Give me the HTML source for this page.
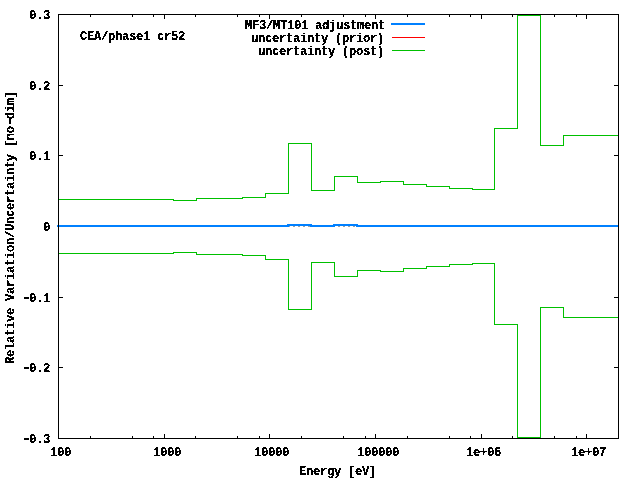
<!DOCTYPE html>
<html><head><meta charset="utf-8"><title>plot</title>
<style>html,body{margin:0;padding:0;background:#fff;width:640px;height:480px;overflow:hidden}svg{display:block}</style>
</head><body>
<svg width="640" height="480" viewBox="0 0 640 480" shape-rendering="crispEdges">
<rect x="0" y="0" width="640" height="480" fill="#ffffff"/>
<rect x="59" y="226" width="1" height="1" fill="#a0a0a0"/>
<rect x="63" y="226" width="1" height="1" fill="#a0a0a0"/>
<rect x="64" y="226" width="1" height="1" fill="#a0a0a0"/>
<rect x="68" y="226" width="1" height="1" fill="#a0a0a0"/>
<rect x="69" y="226" width="1" height="1" fill="#a0a0a0"/>
<rect x="73" y="226" width="1" height="1" fill="#a0a0a0"/>
<rect x="74" y="226" width="1" height="1" fill="#a0a0a0"/>
<rect x="78" y="226" width="1" height="1" fill="#a0a0a0"/>
<rect x="79" y="226" width="1" height="1" fill="#a0a0a0"/>
<rect x="83" y="226" width="1" height="1" fill="#a0a0a0"/>
<rect x="84" y="226" width="1" height="1" fill="#a0a0a0"/>
<rect x="88" y="226" width="1" height="1" fill="#a0a0a0"/>
<rect x="89" y="226" width="1" height="1" fill="#a0a0a0"/>
<rect x="93" y="226" width="1" height="1" fill="#a0a0a0"/>
<rect x="94" y="226" width="1" height="1" fill="#a0a0a0"/>
<rect x="98" y="226" width="1" height="1" fill="#a0a0a0"/>
<rect x="99" y="226" width="1" height="1" fill="#a0a0a0"/>
<rect x="103" y="226" width="1" height="1" fill="#a0a0a0"/>
<rect x="104" y="226" width="1" height="1" fill="#a0a0a0"/>
<rect x="108" y="226" width="1" height="1" fill="#a0a0a0"/>
<rect x="109" y="226" width="1" height="1" fill="#a0a0a0"/>
<rect x="113" y="226" width="1" height="1" fill="#a0a0a0"/>
<rect x="114" y="226" width="1" height="1" fill="#a0a0a0"/>
<rect x="118" y="226" width="1" height="1" fill="#a0a0a0"/>
<rect x="119" y="226" width="1" height="1" fill="#a0a0a0"/>
<rect x="123" y="226" width="1" height="1" fill="#a0a0a0"/>
<rect x="124" y="226" width="1" height="1" fill="#a0a0a0"/>
<rect x="128" y="226" width="1" height="1" fill="#a0a0a0"/>
<rect x="129" y="226" width="1" height="1" fill="#a0a0a0"/>
<rect x="133" y="226" width="1" height="1" fill="#a0a0a0"/>
<rect x="134" y="226" width="1" height="1" fill="#a0a0a0"/>
<rect x="138" y="226" width="1" height="1" fill="#a0a0a0"/>
<rect x="139" y="226" width="1" height="1" fill="#a0a0a0"/>
<rect x="143" y="226" width="1" height="1" fill="#a0a0a0"/>
<rect x="144" y="226" width="1" height="1" fill="#a0a0a0"/>
<rect x="148" y="226" width="1" height="1" fill="#a0a0a0"/>
<rect x="149" y="226" width="1" height="1" fill="#a0a0a0"/>
<rect x="153" y="226" width="1" height="1" fill="#a0a0a0"/>
<rect x="154" y="226" width="1" height="1" fill="#a0a0a0"/>
<rect x="158" y="226" width="1" height="1" fill="#a0a0a0"/>
<rect x="159" y="226" width="1" height="1" fill="#a0a0a0"/>
<rect x="163" y="226" width="1" height="1" fill="#a0a0a0"/>
<rect x="164" y="226" width="1" height="1" fill="#a0a0a0"/>
<rect x="168" y="226" width="1" height="1" fill="#a0a0a0"/>
<rect x="169" y="226" width="1" height="1" fill="#a0a0a0"/>
<rect x="173" y="226" width="1" height="1" fill="#a0a0a0"/>
<rect x="174" y="226" width="1" height="1" fill="#a0a0a0"/>
<rect x="178" y="226" width="1" height="1" fill="#a0a0a0"/>
<rect x="179" y="226" width="1" height="1" fill="#a0a0a0"/>
<rect x="183" y="226" width="1" height="1" fill="#a0a0a0"/>
<rect x="184" y="226" width="1" height="1" fill="#a0a0a0"/>
<rect x="188" y="226" width="1" height="1" fill="#a0a0a0"/>
<rect x="189" y="226" width="1" height="1" fill="#a0a0a0"/>
<rect x="193" y="226" width="1" height="1" fill="#a0a0a0"/>
<rect x="194" y="226" width="1" height="1" fill="#a0a0a0"/>
<rect x="198" y="226" width="1" height="1" fill="#a0a0a0"/>
<rect x="199" y="226" width="1" height="1" fill="#a0a0a0"/>
<rect x="203" y="226" width="1" height="1" fill="#a0a0a0"/>
<rect x="204" y="226" width="1" height="1" fill="#a0a0a0"/>
<rect x="208" y="226" width="1" height="1" fill="#a0a0a0"/>
<rect x="209" y="226" width="1" height="1" fill="#a0a0a0"/>
<rect x="213" y="226" width="1" height="1" fill="#a0a0a0"/>
<rect x="214" y="226" width="1" height="1" fill="#a0a0a0"/>
<rect x="218" y="226" width="1" height="1" fill="#a0a0a0"/>
<rect x="219" y="226" width="1" height="1" fill="#a0a0a0"/>
<rect x="223" y="226" width="1" height="1" fill="#a0a0a0"/>
<rect x="224" y="226" width="1" height="1" fill="#a0a0a0"/>
<rect x="228" y="226" width="1" height="1" fill="#a0a0a0"/>
<rect x="229" y="226" width="1" height="1" fill="#a0a0a0"/>
<rect x="233" y="226" width="1" height="1" fill="#a0a0a0"/>
<rect x="234" y="226" width="1" height="1" fill="#a0a0a0"/>
<rect x="238" y="226" width="1" height="1" fill="#a0a0a0"/>
<rect x="239" y="226" width="1" height="1" fill="#a0a0a0"/>
<rect x="243" y="226" width="1" height="1" fill="#a0a0a0"/>
<rect x="244" y="226" width="1" height="1" fill="#a0a0a0"/>
<rect x="248" y="226" width="1" height="1" fill="#a0a0a0"/>
<rect x="249" y="226" width="1" height="1" fill="#a0a0a0"/>
<rect x="253" y="226" width="1" height="1" fill="#a0a0a0"/>
<rect x="254" y="226" width="1" height="1" fill="#a0a0a0"/>
<rect x="258" y="226" width="1" height="1" fill="#a0a0a0"/>
<rect x="259" y="226" width="1" height="1" fill="#a0a0a0"/>
<rect x="263" y="226" width="1" height="1" fill="#a0a0a0"/>
<rect x="264" y="226" width="1" height="1" fill="#a0a0a0"/>
<rect x="268" y="226" width="1" height="1" fill="#a0a0a0"/>
<rect x="269" y="226" width="1" height="1" fill="#a0a0a0"/>
<rect x="273" y="226" width="1" height="1" fill="#a0a0a0"/>
<rect x="274" y="226" width="1" height="1" fill="#a0a0a0"/>
<rect x="278" y="226" width="1" height="1" fill="#a0a0a0"/>
<rect x="279" y="226" width="1" height="1" fill="#a0a0a0"/>
<rect x="283" y="226" width="1" height="1" fill="#a0a0a0"/>
<rect x="284" y="226" width="1" height="1" fill="#a0a0a0"/>
<rect x="288" y="226" width="1" height="1" fill="#a0a0a0"/>
<rect x="289" y="226" width="1" height="1" fill="#a0a0a0"/>
<rect x="293" y="226" width="1" height="1" fill="#a0a0a0"/>
<rect x="294" y="226" width="1" height="1" fill="#a0a0a0"/>
<rect x="298" y="226" width="1" height="1" fill="#a0a0a0"/>
<rect x="299" y="226" width="1" height="1" fill="#a0a0a0"/>
<rect x="303" y="226" width="1" height="1" fill="#a0a0a0"/>
<rect x="304" y="226" width="1" height="1" fill="#a0a0a0"/>
<rect x="308" y="226" width="1" height="1" fill="#a0a0a0"/>
<rect x="309" y="226" width="1" height="1" fill="#a0a0a0"/>
<rect x="313" y="226" width="1" height="1" fill="#a0a0a0"/>
<rect x="314" y="226" width="1" height="1" fill="#a0a0a0"/>
<rect x="318" y="226" width="1" height="1" fill="#a0a0a0"/>
<rect x="319" y="226" width="1" height="1" fill="#a0a0a0"/>
<rect x="323" y="226" width="1" height="1" fill="#a0a0a0"/>
<rect x="324" y="226" width="1" height="1" fill="#a0a0a0"/>
<rect x="328" y="226" width="1" height="1" fill="#a0a0a0"/>
<rect x="329" y="226" width="1" height="1" fill="#a0a0a0"/>
<rect x="333" y="226" width="1" height="1" fill="#a0a0a0"/>
<rect x="334" y="226" width="1" height="1" fill="#a0a0a0"/>
<rect x="338" y="226" width="1" height="1" fill="#a0a0a0"/>
<rect x="339" y="226" width="1" height="1" fill="#a0a0a0"/>
<rect x="343" y="226" width="1" height="1" fill="#a0a0a0"/>
<rect x="344" y="226" width="1" height="1" fill="#a0a0a0"/>
<rect x="348" y="226" width="1" height="1" fill="#a0a0a0"/>
<rect x="349" y="226" width="1" height="1" fill="#a0a0a0"/>
<rect x="353" y="226" width="1" height="1" fill="#a0a0a0"/>
<rect x="354" y="226" width="1" height="1" fill="#a0a0a0"/>
<rect x="358" y="226" width="1" height="1" fill="#a0a0a0"/>
<rect x="359" y="226" width="1" height="1" fill="#a0a0a0"/>
<rect x="363" y="226" width="1" height="1" fill="#a0a0a0"/>
<rect x="364" y="226" width="1" height="1" fill="#a0a0a0"/>
<rect x="368" y="226" width="1" height="1" fill="#a0a0a0"/>
<rect x="369" y="226" width="1" height="1" fill="#a0a0a0"/>
<rect x="373" y="226" width="1" height="1" fill="#a0a0a0"/>
<rect x="374" y="226" width="1" height="1" fill="#a0a0a0"/>
<rect x="378" y="226" width="1" height="1" fill="#a0a0a0"/>
<rect x="379" y="226" width="1" height="1" fill="#a0a0a0"/>
<rect x="383" y="226" width="1" height="1" fill="#a0a0a0"/>
<rect x="384" y="226" width="1" height="1" fill="#a0a0a0"/>
<rect x="388" y="226" width="1" height="1" fill="#a0a0a0"/>
<rect x="389" y="226" width="1" height="1" fill="#a0a0a0"/>
<rect x="393" y="226" width="1" height="1" fill="#a0a0a0"/>
<rect x="394" y="226" width="1" height="1" fill="#a0a0a0"/>
<rect x="398" y="226" width="1" height="1" fill="#a0a0a0"/>
<rect x="399" y="226" width="1" height="1" fill="#a0a0a0"/>
<rect x="403" y="226" width="1" height="1" fill="#a0a0a0"/>
<rect x="404" y="226" width="1" height="1" fill="#a0a0a0"/>
<rect x="408" y="226" width="1" height="1" fill="#a0a0a0"/>
<rect x="409" y="226" width="1" height="1" fill="#a0a0a0"/>
<rect x="413" y="226" width="1" height="1" fill="#a0a0a0"/>
<rect x="414" y="226" width="1" height="1" fill="#a0a0a0"/>
<rect x="418" y="226" width="1" height="1" fill="#a0a0a0"/>
<rect x="419" y="226" width="1" height="1" fill="#a0a0a0"/>
<rect x="423" y="226" width="1" height="1" fill="#a0a0a0"/>
<rect x="424" y="226" width="1" height="1" fill="#a0a0a0"/>
<rect x="428" y="226" width="1" height="1" fill="#a0a0a0"/>
<rect x="429" y="226" width="1" height="1" fill="#a0a0a0"/>
<rect x="433" y="226" width="1" height="1" fill="#a0a0a0"/>
<rect x="434" y="226" width="1" height="1" fill="#a0a0a0"/>
<rect x="438" y="226" width="1" height="1" fill="#a0a0a0"/>
<rect x="439" y="226" width="1" height="1" fill="#a0a0a0"/>
<rect x="443" y="226" width="1" height="1" fill="#a0a0a0"/>
<rect x="444" y="226" width="1" height="1" fill="#a0a0a0"/>
<rect x="448" y="226" width="1" height="1" fill="#a0a0a0"/>
<rect x="449" y="226" width="1" height="1" fill="#a0a0a0"/>
<rect x="453" y="226" width="1" height="1" fill="#a0a0a0"/>
<rect x="454" y="226" width="1" height="1" fill="#a0a0a0"/>
<rect x="458" y="226" width="1" height="1" fill="#a0a0a0"/>
<rect x="459" y="226" width="1" height="1" fill="#a0a0a0"/>
<rect x="463" y="226" width="1" height="1" fill="#a0a0a0"/>
<rect x="464" y="226" width="1" height="1" fill="#a0a0a0"/>
<rect x="468" y="226" width="1" height="1" fill="#a0a0a0"/>
<rect x="469" y="226" width="1" height="1" fill="#a0a0a0"/>
<rect x="473" y="226" width="1" height="1" fill="#a0a0a0"/>
<rect x="474" y="226" width="1" height="1" fill="#a0a0a0"/>
<rect x="478" y="226" width="1" height="1" fill="#a0a0a0"/>
<rect x="479" y="226" width="1" height="1" fill="#a0a0a0"/>
<rect x="483" y="226" width="1" height="1" fill="#a0a0a0"/>
<rect x="484" y="226" width="1" height="1" fill="#a0a0a0"/>
<rect x="488" y="226" width="1" height="1" fill="#a0a0a0"/>
<rect x="489" y="226" width="1" height="1" fill="#a0a0a0"/>
<rect x="493" y="226" width="1" height="1" fill="#a0a0a0"/>
<rect x="494" y="226" width="1" height="1" fill="#a0a0a0"/>
<rect x="498" y="226" width="1" height="1" fill="#a0a0a0"/>
<rect x="499" y="226" width="1" height="1" fill="#a0a0a0"/>
<rect x="503" y="226" width="1" height="1" fill="#a0a0a0"/>
<rect x="504" y="226" width="1" height="1" fill="#a0a0a0"/>
<rect x="508" y="226" width="1" height="1" fill="#a0a0a0"/>
<rect x="509" y="226" width="1" height="1" fill="#a0a0a0"/>
<rect x="513" y="226" width="1" height="1" fill="#a0a0a0"/>
<rect x="514" y="226" width="1" height="1" fill="#a0a0a0"/>
<rect x="518" y="226" width="1" height="1" fill="#a0a0a0"/>
<rect x="519" y="226" width="1" height="1" fill="#a0a0a0"/>
<rect x="523" y="226" width="1" height="1" fill="#a0a0a0"/>
<rect x="524" y="226" width="1" height="1" fill="#a0a0a0"/>
<rect x="528" y="226" width="1" height="1" fill="#a0a0a0"/>
<rect x="529" y="226" width="1" height="1" fill="#a0a0a0"/>
<rect x="533" y="226" width="1" height="1" fill="#a0a0a0"/>
<rect x="534" y="226" width="1" height="1" fill="#a0a0a0"/>
<rect x="538" y="226" width="1" height="1" fill="#a0a0a0"/>
<rect x="539" y="226" width="1" height="1" fill="#a0a0a0"/>
<rect x="543" y="226" width="1" height="1" fill="#a0a0a0"/>
<rect x="544" y="226" width="1" height="1" fill="#a0a0a0"/>
<rect x="548" y="226" width="1" height="1" fill="#a0a0a0"/>
<rect x="549" y="226" width="1" height="1" fill="#a0a0a0"/>
<rect x="553" y="226" width="1" height="1" fill="#a0a0a0"/>
<rect x="554" y="226" width="1" height="1" fill="#a0a0a0"/>
<rect x="558" y="226" width="1" height="1" fill="#a0a0a0"/>
<rect x="559" y="226" width="1" height="1" fill="#a0a0a0"/>
<rect x="563" y="226" width="1" height="1" fill="#a0a0a0"/>
<rect x="564" y="226" width="1" height="1" fill="#a0a0a0"/>
<rect x="568" y="226" width="1" height="1" fill="#a0a0a0"/>
<rect x="569" y="226" width="1" height="1" fill="#a0a0a0"/>
<rect x="573" y="226" width="1" height="1" fill="#a0a0a0"/>
<rect x="574" y="226" width="1" height="1" fill="#a0a0a0"/>
<rect x="578" y="226" width="1" height="1" fill="#a0a0a0"/>
<rect x="579" y="226" width="1" height="1" fill="#a0a0a0"/>
<rect x="583" y="226" width="1" height="1" fill="#a0a0a0"/>
<rect x="584" y="226" width="1" height="1" fill="#a0a0a0"/>
<rect x="588" y="226" width="1" height="1" fill="#a0a0a0"/>
<rect x="589" y="226" width="1" height="1" fill="#a0a0a0"/>
<rect x="593" y="226" width="1" height="1" fill="#a0a0a0"/>
<rect x="594" y="226" width="1" height="1" fill="#a0a0a0"/>
<rect x="598" y="226" width="1" height="1" fill="#a0a0a0"/>
<rect x="599" y="226" width="1" height="1" fill="#a0a0a0"/>
<rect x="603" y="226" width="1" height="1" fill="#a0a0a0"/>
<rect x="604" y="226" width="1" height="1" fill="#a0a0a0"/>
<rect x="608" y="226" width="1" height="1" fill="#a0a0a0"/>
<rect x="609" y="226" width="1" height="1" fill="#a0a0a0"/>
<rect x="613" y="226" width="1" height="1" fill="#a0a0a0"/>
<rect x="614" y="226" width="1" height="1" fill="#a0a0a0"/>
<rect x="57" y="225" width="232" height="2" fill="#0080ff"/>
<rect x="310" y="225" width="25" height="2" fill="#0080ff"/>
<rect x="356" y="225" width="262" height="2" fill="#0080ff"/>
<rect x="287" y="224" width="25" height="2" fill="#0080ff"/>
<rect x="333" y="224" width="25" height="2" fill="#0080ff"/>
<rect x="59" y="199" width="115" height="1" fill="#00c000"/>
<rect x="59" y="253" width="115" height="1" fill="#00c000"/>
<rect x="173" y="200" width="24" height="1" fill="#00c000"/>
<rect x="173" y="252" width="24" height="1" fill="#00c000"/>
<rect x="173" y="199" width="1" height="2" fill="#00c000"/>
<rect x="173" y="252" width="1" height="2" fill="#00c000"/>
<rect x="196" y="198" width="47" height="1" fill="#00c000"/>
<rect x="196" y="254" width="47" height="1" fill="#00c000"/>
<rect x="196" y="198" width="1" height="3" fill="#00c000"/>
<rect x="196" y="252" width="1" height="3" fill="#00c000"/>
<rect x="242" y="197" width="24" height="1" fill="#00c000"/>
<rect x="242" y="255" width="24" height="1" fill="#00c000"/>
<rect x="242" y="197" width="1" height="2" fill="#00c000"/>
<rect x="242" y="254" width="1" height="2" fill="#00c000"/>
<rect x="265" y="193" width="24" height="1" fill="#00c000"/>
<rect x="265" y="259" width="24" height="1" fill="#00c000"/>
<rect x="265" y="193" width="1" height="5" fill="#00c000"/>
<rect x="265" y="255" width="1" height="5" fill="#00c000"/>
<rect x="288" y="143" width="24" height="1" fill="#00c000"/>
<rect x="288" y="309" width="24" height="1" fill="#00c000"/>
<rect x="288" y="143" width="1" height="51" fill="#00c000"/>
<rect x="288" y="259" width="1" height="51" fill="#00c000"/>
<rect x="311" y="190" width="24" height="1" fill="#00c000"/>
<rect x="311" y="262" width="24" height="1" fill="#00c000"/>
<rect x="311" y="143" width="1" height="48" fill="#00c000"/>
<rect x="311" y="262" width="1" height="48" fill="#00c000"/>
<rect x="334" y="176" width="24" height="1" fill="#00c000"/>
<rect x="334" y="276" width="24" height="1" fill="#00c000"/>
<rect x="334" y="176" width="1" height="15" fill="#00c000"/>
<rect x="334" y="262" width="1" height="15" fill="#00c000"/>
<rect x="357" y="182" width="24" height="1" fill="#00c000"/>
<rect x="357" y="270" width="24" height="1" fill="#00c000"/>
<rect x="357" y="176" width="1" height="7" fill="#00c000"/>
<rect x="357" y="270" width="1" height="7" fill="#00c000"/>
<rect x="380" y="181" width="24" height="1" fill="#00c000"/>
<rect x="380" y="271" width="24" height="1" fill="#00c000"/>
<rect x="380" y="181" width="1" height="2" fill="#00c000"/>
<rect x="380" y="270" width="1" height="2" fill="#00c000"/>
<rect x="403" y="184" width="24" height="1" fill="#00c000"/>
<rect x="403" y="268" width="24" height="1" fill="#00c000"/>
<rect x="403" y="181" width="1" height="4" fill="#00c000"/>
<rect x="403" y="268" width="1" height="4" fill="#00c000"/>
<rect x="426" y="186" width="24" height="1" fill="#00c000"/>
<rect x="426" y="266" width="24" height="1" fill="#00c000"/>
<rect x="426" y="184" width="1" height="3" fill="#00c000"/>
<rect x="426" y="266" width="1" height="3" fill="#00c000"/>
<rect x="449" y="188" width="24" height="1" fill="#00c000"/>
<rect x="449" y="264" width="24" height="1" fill="#00c000"/>
<rect x="449" y="186" width="1" height="3" fill="#00c000"/>
<rect x="449" y="264" width="1" height="3" fill="#00c000"/>
<rect x="472" y="189" width="23" height="1" fill="#00c000"/>
<rect x="472" y="263" width="23" height="1" fill="#00c000"/>
<rect x="472" y="188" width="1" height="2" fill="#00c000"/>
<rect x="472" y="263" width="1" height="2" fill="#00c000"/>
<rect x="494" y="128" width="24" height="1" fill="#00c000"/>
<rect x="494" y="324" width="24" height="1" fill="#00c000"/>
<rect x="494" y="128" width="1" height="62" fill="#00c000"/>
<rect x="494" y="263" width="1" height="62" fill="#00c000"/>
<rect x="517" y="15" width="24" height="1" fill="#00c000"/>
<rect x="517" y="437" width="24" height="1" fill="#00c000"/>
<rect x="517" y="15" width="1" height="114" fill="#00c000"/>
<rect x="517" y="324" width="1" height="114" fill="#00c000"/>
<rect x="540" y="145" width="24" height="1" fill="#00c000"/>
<rect x="540" y="307" width="24" height="1" fill="#00c000"/>
<rect x="540" y="15" width="1" height="131" fill="#00c000"/>
<rect x="540" y="307" width="1" height="131" fill="#00c000"/>
<rect x="563" y="135" width="55" height="1" fill="#00c000"/>
<rect x="563" y="317" width="55" height="1" fill="#00c000"/>
<rect x="563" y="135" width="1" height="11" fill="#00c000"/>
<rect x="563" y="307" width="1" height="11" fill="#00c000"/>
<rect x="58" y="14" width="561" height="1" fill="#000000"/>
<rect x="58" y="438" width="561" height="1" fill="#000000"/>
<rect x="58" y="14" width="1" height="425" fill="#000000"/>
<rect x="618" y="14" width="1" height="425" fill="#000000"/>
<rect x="58" y="434" width="1" height="5" fill="#000000"/>
<rect x="58" y="14" width="1" height="5" fill="#000000"/>
<rect x="90" y="436" width="1" height="3" fill="#000000"/>
<rect x="90" y="14" width="1" height="3" fill="#000000"/>
<rect x="132" y="436" width="1" height="3" fill="#000000"/>
<rect x="132" y="14" width="1" height="3" fill="#000000"/>
<rect x="153" y="436" width="1" height="3" fill="#000000"/>
<rect x="153" y="14" width="1" height="3" fill="#000000"/>
<rect x="164" y="434" width="1" height="5" fill="#000000"/>
<rect x="164" y="14" width="1" height="5" fill="#000000"/>
<rect x="195" y="436" width="1" height="3" fill="#000000"/>
<rect x="195" y="14" width="1" height="3" fill="#000000"/>
<rect x="237" y="436" width="1" height="3" fill="#000000"/>
<rect x="237" y="14" width="1" height="3" fill="#000000"/>
<rect x="259" y="436" width="1" height="3" fill="#000000"/>
<rect x="259" y="14" width="1" height="3" fill="#000000"/>
<rect x="269" y="434" width="1" height="5" fill="#000000"/>
<rect x="269" y="14" width="1" height="5" fill="#000000"/>
<rect x="301" y="436" width="1" height="3" fill="#000000"/>
<rect x="301" y="14" width="1" height="3" fill="#000000"/>
<rect x="343" y="436" width="1" height="3" fill="#000000"/>
<rect x="343" y="14" width="1" height="3" fill="#000000"/>
<rect x="365" y="436" width="1" height="3" fill="#000000"/>
<rect x="365" y="14" width="1" height="3" fill="#000000"/>
<rect x="375" y="434" width="1" height="5" fill="#000000"/>
<rect x="375" y="14" width="1" height="5" fill="#000000"/>
<rect x="407" y="436" width="1" height="3" fill="#000000"/>
<rect x="407" y="14" width="1" height="3" fill="#000000"/>
<rect x="449" y="436" width="1" height="3" fill="#000000"/>
<rect x="449" y="14" width="1" height="3" fill="#000000"/>
<rect x="470" y="436" width="1" height="3" fill="#000000"/>
<rect x="470" y="14" width="1" height="3" fill="#000000"/>
<rect x="481" y="434" width="1" height="5" fill="#000000"/>
<rect x="481" y="14" width="1" height="5" fill="#000000"/>
<rect x="512" y="436" width="1" height="3" fill="#000000"/>
<rect x="512" y="14" width="1" height="3" fill="#000000"/>
<rect x="554" y="436" width="1" height="3" fill="#000000"/>
<rect x="554" y="14" width="1" height="3" fill="#000000"/>
<rect x="576" y="436" width="1" height="3" fill="#000000"/>
<rect x="576" y="14" width="1" height="3" fill="#000000"/>
<rect x="586" y="434" width="1" height="5" fill="#000000"/>
<rect x="586" y="14" width="1" height="5" fill="#000000"/>
<rect x="58" y="14" width="5" height="1" fill="#000000"/>
<rect x="614" y="14" width="5" height="1" fill="#000000"/>
<rect x="58" y="85" width="5" height="1" fill="#000000"/>
<rect x="614" y="85" width="5" height="1" fill="#000000"/>
<rect x="58" y="155" width="5" height="1" fill="#000000"/>
<rect x="614" y="155" width="5" height="1" fill="#000000"/>
<rect x="58" y="297" width="5" height="1" fill="#000000"/>
<rect x="614" y="297" width="5" height="1" fill="#000000"/>
<rect x="58" y="367" width="5" height="1" fill="#000000"/>
<rect x="614" y="367" width="5" height="1" fill="#000000"/>
<rect x="58" y="438" width="5" height="1" fill="#000000"/>
<rect x="614" y="438" width="5" height="1" fill="#000000"/>
<rect x="391" y="23" width="34" height="2" fill="#0080ff"/>
<rect x="392" y="37" width="33" height="1" fill="#ff0000"/>
<rect x="392" y="50" width="33" height="1" fill="#00c000"/>
<defs><filter id="crisp"><feComponentTransfer><feFuncA type="discrete" tableValues="0 1 1"/></feComponentTransfer></filter></defs>
<g filter="url(#crisp)" font-family='"Liberation Mono", monospace' font-size="12.15" font-weight="bold" letter-spacing="-0.29" fill="#000000">
<text x="29" y="19">0.3</text>
<text x="29" y="90">0.2</text>
<text x="29" y="160">0.1</text>
<text x="43" y="231">0</text>
<text x="22" y="302"><tspan font-size="16" letter-spacing="-2.6">-</tspan>0.1</text>
<text x="22" y="372"><tspan font-size="16" letter-spacing="-2.6">-</tspan>0.2</text>
<text x="22" y="443"><tspan font-size="16" letter-spacing="-2.6">-</tspan>0.3</text>
<text x="50" y="456">100</text>
<text x="153" y="456">1000</text>
<text x="254" y="456">10000</text>
<text x="357" y="456">100000</text>
<text x="466" y="456">1e+06</text>
<text x="571" y="456">1e+07</text>
<text x="299" y="475">Energy [eV]</text>
<text x="80" y="40">CEA/phase1 cr52</text>
<text x="245" y="29">MF3/MT101 adjustment</text>
<text x="251" y="42">uncertainty (prior)</text>
<text x="258" y="55">uncertainty (post)</text>
<text transform="translate(14,364) rotate(-90)">Relative Variation/Uncertainty [no<tspan font-size="16" letter-spacing="-2.6">-</tspan>dim]</text>
</g>
</svg>
</body></html>
